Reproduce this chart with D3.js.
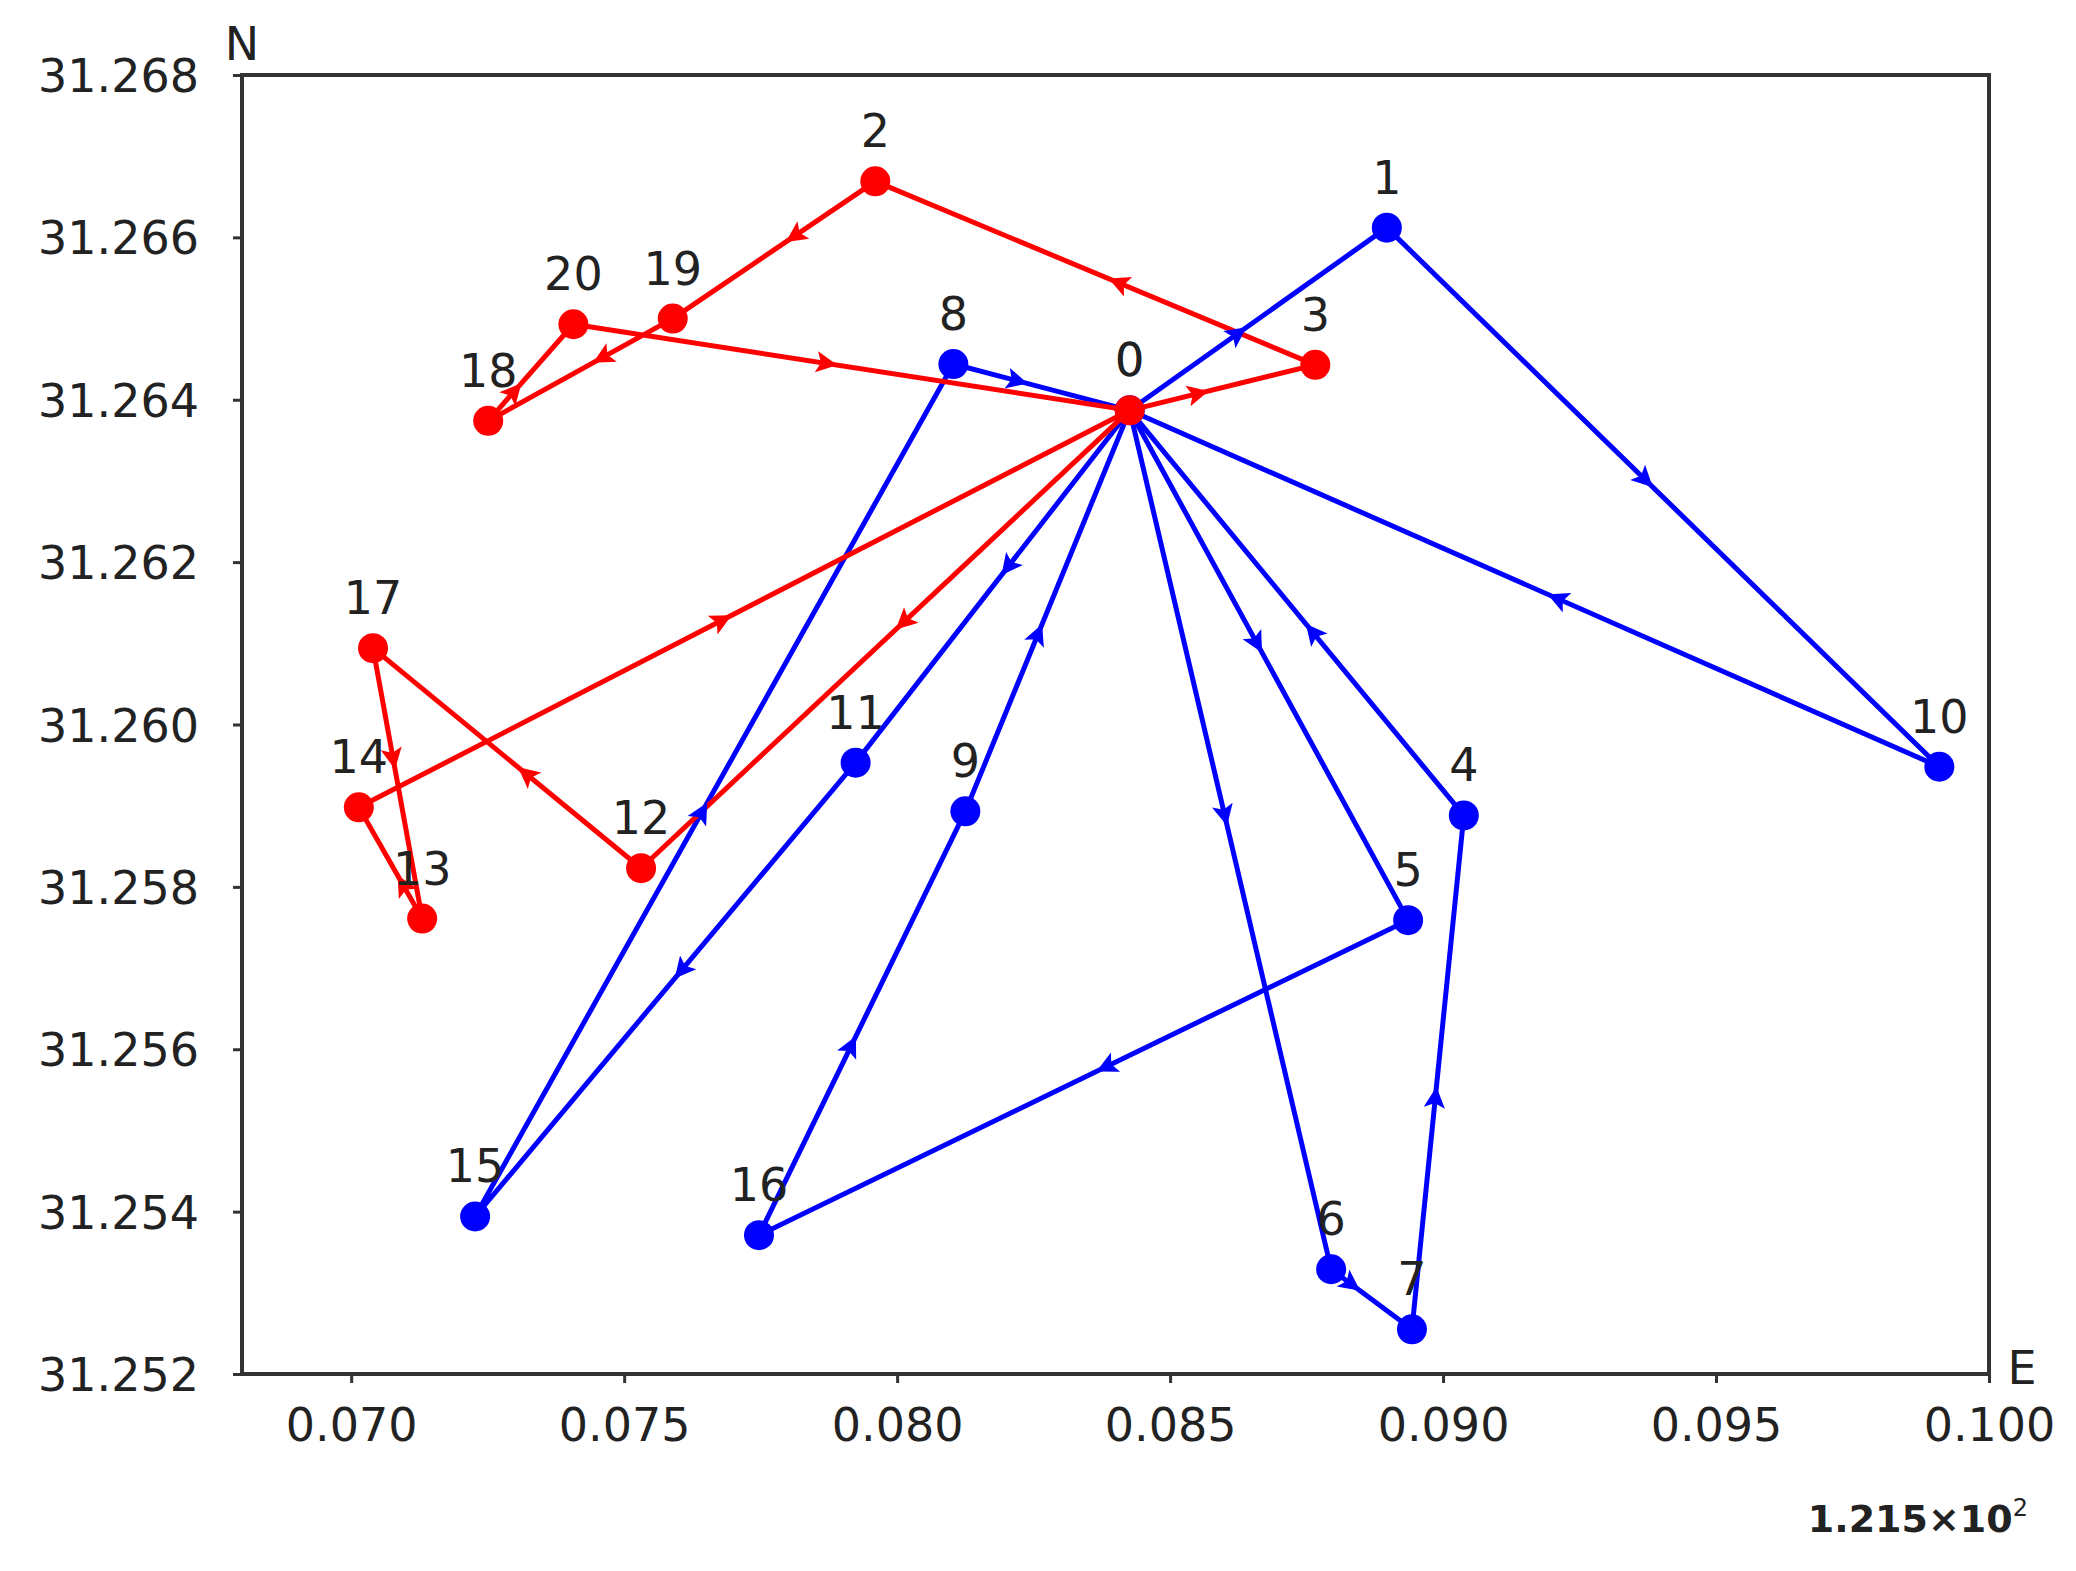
<!DOCTYPE html>
<html>
<head>
<meta charset="utf-8">
<script src="https://cdn.jsdelivr.net/npm/d3@7"></script>
<style>
  html, body { margin: 0; padding: 0; background: #fff; }
  svg { display: block; font-family: "DejaVu Sans", sans-serif; }
</style>
</head>
<body>
<svg id="chart" width="2076" height="1571"></svg>
<script>
// point coordinates: longitude offset (x 1.215e2 + ...) and latitude
let pointIds = [0, 1, 2, 3, 4, 5, 6, 7, 8, 9, 10, 11, 12, 13, 14, 15, 16, 17, 18, 19, 20]
let pointLon = [0.08426, 0.08897, 0.07960, 0.08766, 0.09038, 0.08936, 0.08795, 0.08943, 0.08103, 0.08125,
    0.09909, 0.07924, 0.07531, 0.07130, 0.07014, 0.07227, 0.07747, 0.07040, 0.07251, 0.07589, 0.07407]
let pointLat = [31.26387, 31.26612, 31.26669, 31.26443, 31.25888, 31.25759, 31.25329, 31.25255, 31.26444, 31.25893,
    31.25948, 31.25953, 31.25823, 31.25761, 31.25898, 31.25394, 31.25371, 31.26094, 31.26374, 31.26500, 31.26493]

// routes (visiting order)
let blueRoutes = [
    [0, 1, 10, 0],
    [0, 11, 15, 8, 0],
    [0, 6, 7, 4, 0],
    [0, 5, 16, 9, 0]
]
let redRoutes = [
    [0, 3, 2, 19, 18, 20, 0],
    [0, 12, 17, 13, 14, 0]
]

let xTicks = [0.070, 0.075, 0.080, 0.085, 0.090, 0.095, 0.100]
let yTicks = [31.252, 31.254, 31.256, 31.258, 31.260, 31.262, 31.264, 31.266, 31.268]
let xDomain = [0.068, 0.100]
let yDomain = [31.252, 31.268]

let margin = { left: 242, right: 87, top: 75, bottom: 197 }
let width = 2076, height = 1571

let svg = d3.select('#chart')

let xscale = d3.scaleLinear().domain(xDomain).range([margin.left, width - margin.right])
let yscale = d3.scaleLinear().domain(yDomain).range([height - margin.bottom, margin.top])

let tickFont = 46

// axes
svg.append('g').attr('class', 'xaxis')
    .attr('transform', `translate(0,${height - margin.bottom})`)
    .call(d3.axisBottom(xscale).tickValues(xTicks).tickSizeOuter(0).tickSizeInner(9).tickPadding(25).tickFormat(d3.format('.3f')))

svg.append('g').attr('class', 'yaxis')
    .attr('transform', `translate(${margin.left},0)`)
    .call(d3.axisLeft(yscale).tickValues(yTicks).tickSizeOuter(0).tickSizeInner(9).tickPadding(34).tickFormat(d3.format('.3f')))

svg.selectAll('.xaxis .domain, .yaxis .domain').remove()
svg.selectAll('.tick line').style('stroke', '#333').style('stroke-width', 3)
svg.selectAll('.tick text').style('font-size', tickFont + 'px').style('fill', '#222')
    .style('font-family', '"DejaVu Sans", sans-serif')
svg.selectAll('.yaxis .tick text').attr('dy', '0.36em')

// frame
svg.append('rect')
    .attr('x', margin.left)
    .attr('y', margin.top)
    .attr('width', width - margin.left - margin.right)
    .attr('height', height - margin.top - margin.bottom)
    .style('fill', 'none')
    .style('stroke', '#333')
    .style('stroke-width', 4)

// axis letters
svg.append('text').attr('x', margin.left).attr('y', 60).attr('text-anchor', 'middle')
    .style('font-size', tickFont + 'px').style('fill', '#222').text('N')
svg.append('text').attr('x', width - margin.right + 33).attr('y', 1384).attr('text-anchor', 'middle')
    .style('font-size', tickFont + 'px').style('fill', '#222').text('E')

// offset text
let off = svg.append('text').attr('x', 2028).attr('y', 1532).attr('text-anchor', 'end')
    .style('font-size', '38px').style('font-weight', 'bold').style('fill', '#222')
off.append('tspan').text('1.215×10')
off.append('tspan').attr('dy', -16).style('font-size', '24px').style('font-weight', 'normal').text('2')

function px(i) {
    return [xscale(pointLon[i]), yscale(pointLat[i])]
}

let line = d3.line()
    .x(d => xscale(pointLon[d]))
    .y(d => yscale(pointLat[d]))

function drawRoutes(routes, color) {
    let g = svg.append('g')
    routes.forEach(r => {
        g.append('path')
            .attr('d', line(r))
            .style('stroke', color)
            .style('stroke-width', 5)
            .style('fill', 'none')
            .style('stroke-linejoin', 'round')
    })
    let pts = [...new Set(routes.flat())]
    g.selectAll('circle').data(pts).enter().append('circle')
        .attr('cx', d => xscale(pointLon[d]))
        .attr('cy', d => yscale(pointLat[d]))
        .attr('r', 15)
        .style('fill', color)
}

function drawArrows(routes, color) {
    let g = svg.append('g')
    routes.forEach(r => {
        for (let k = 0; k < r.length - 1; k++) {
            let a = px(r[k]), b = px(r[k + 1])
            let dx = b[0] - a[0], dy = b[1] - a[1]
            let len = Math.sqrt(dx * dx + dy * dy)
            let ux = dx / len, uy = dy / len
            let tip = [(a[0] + b[0]) / 2 - ux * 16, (a[1] + b[1]) / 2 - uy * 16]
            let base = [tip[0] - ux * 18, tip[1] - uy * 18]
            let w = 9
            let p = [tip, [base[0] - uy * w, base[1] + ux * w], [base[0] + ux * 4, base[1] + uy * 4], [base[0] + uy * w, base[1] - ux * w]]
            g.append('path')
                .attr('d', 'M' + p.map(q => q.join(',')).join('L') + 'Z')
                .style('fill', color)
                .style('stroke', color)
                .style('stroke-width', 1.5)
        }
    })
}

drawRoutes(blueRoutes, '#0000ff')
drawRoutes(redRoutes, '#ff0000')
drawArrows(blueRoutes, '#0000ff')
drawArrows(redRoutes, '#ff0000')

// point labels (0 is labelled once per colour, so twice)
let labelIds = pointIds.concat([0])
svg.append('g').selectAll('text').data(labelIds).enter().append('text')
    .attr('x', d => xscale(pointLon[d]))
    .attr('y', d => yscale(pointLat[d]) - 34)
    .attr('text-anchor', 'middle')
    .style('font-size', tickFont + 'px')
    .style('fill', '#222')
    .text(d => d)
</script>
</body>
</html>
